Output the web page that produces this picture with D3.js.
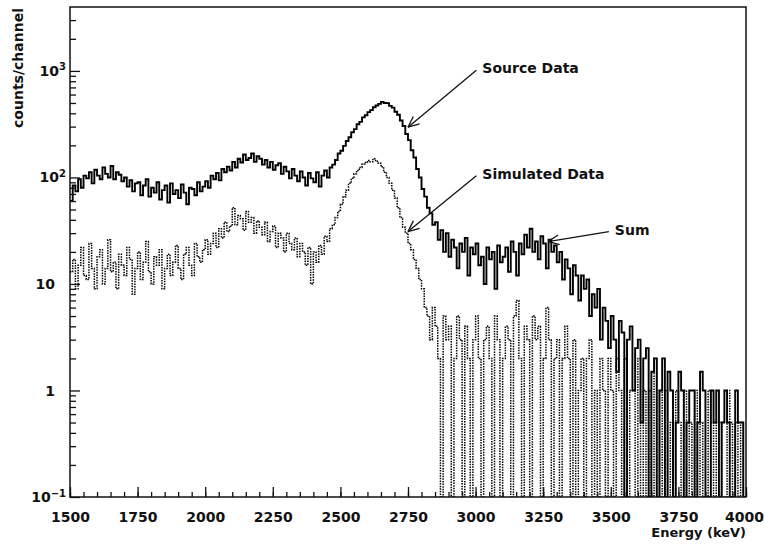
<!DOCTYPE html>
<html>
<head>
<meta charset="utf-8">
<script src="https://cdn.jsdelivr.net/npm/d3@7"></script>
<style>
	body { margin: 0; background: #fff; }
	text { font-family: "DejaVu Sans", sans-serif; fill: #111; }
</style>
</head>
<body>
<script>

	// channel energies: 10 keV bins starting at 1500 keV
	var binStart = 1500, binWidth = 10;

	// source data (solid) - counts per channel
	var sourceCounts = [
		60, 84, 74, 96, 80, 104, 98, 112, 88, 118,
		104, 96, 124, 108, 100, 128, 96, 112, 106, 92,
		100, 82, 94, 74, 88, 90, 68, 84, 96, 66,
		80, 72, 90, 62, 76, 84, 58, 88, 70, 76,
		64, 86, 72, 56, 80, 78, 68, 90, 74, 82,
		92, 80, 104, 96, 110, 94, 120, 112, 126, 116,
		140, 124, 150, 138, 164, 146, 152, 168, 140, 158,
		150, 132, 146, 124, 140, 118, 130, 136, 108, 126,
		114, 98, 120, 104, 92, 114, 100, 84, 110, 98,
		90, 112, 82, 104, 116, 100, 124, 132, 146, 168,
		178, 198, 220, 238, 266, 284, 316, 332, 366, 384,
		410, 428, 456, 474, 490, 512, 500, 498, 470, 452,
		414, 388, 342, 304, 256, 224, 180, 154, 120, 100,
		78, 66, 52, 46, 36, 38, 26, 32, 20, 30,
		18, 26, 22, 14, 24, 20, 27, 12, 22, 19,
		24, 15, 18, 10, 22, 17, 20, 9, 23, 16,
		18, 22, 13, 25, 20, 12, 24, 19, 29, 22,
		33, 20, 25, 17, 28, 24, 14, 26, 20, 23,
		16, 20, 11, 17, 14, 8, 15, 12, 7, 12,
		9, 11, 5, 8, 6, 9, 3, 6, 4.5, 2.5,
		5, 3, 1.5, 4.5, 3.5, 0, 3, 4, 1, 2.5,
		3, 0.5, 2, 2.5, 0, 1.5, 2, 0, 1, 2,
		0, 1.5, 1, 0, 0.5, 1.5, 1, 0, 0.5, 1,
		1, 0, 0.5, 1.5, 1, 0, 0, 1, 0.5, 1,
		0, 0.5, 1, 0.5, 0, 0, 1, 0.5, 0.5, 0
	];

	// simulated data (dotted)
	var simCounts = [
		13, 17, 9, 15, 22, 12, 11, 24, 14, 9,
		18, 21, 10, 14, 26, 13, 16, 9, 19, 15,
		12, 22, 17, 8, 14, 20, 11, 16, 25, 13,
		10, 18, 15, 21, 9, 14, 19, 12, 16, 23,
		14, 11, 19, 22, 15, 12, 24, 18, 16, 21,
		26, 19, 24, 30, 22, 33, 27, 38, 31, 35,
		52, 36, 44, 41, 32, 48, 38, 42, 30, 39,
		34, 29, 38, 25, 31, 35, 22, 30, 27, 20,
		30, 24, 21, 27, 18, 24, 20, 15, 22, 10,
		20, 16, 23, 19, 28, 25, 33, 36, 42, 48,
		56, 66, 76, 88, 98, 108, 116, 124, 134, 138,
		144, 140, 150, 142, 136, 126, 112, 100, 88, 76,
		64, 52, 42, 34, 30, 24, 21, 17, 14, 11,
		9, 6, 5, 3, 6, 4, 2, 0, 5, 3,
		4, 0, 2, 5, 3, 0, 4, 2, 0, 3,
		5, 2, 0, 3, 4, 2, 0, 5, 3, 0,
		2, 4, 3, 0, 5, 7, 2, 0, 4, 3,
		0, 5, 3, 4, 0, 2, 6, 3, 0, 2,
		3, 0, 2, 4, 2, 0, 3, 0, 1, 2,
		0, 2, 3, 0, 1, 0, 2, 1, 0, 2,
		1, 0, 2, 1, 0, 2, 0, 1, 1, 0,
		2, 0, 1, 0, 1, 0, 2, 0, 1, 0,
		1, 0, 0.5, 0, 1, 0.5, 0, 1, 0, 0.5,
		0, 1, 0, 0.5, 0, 0, 1, 0.5, 0, 0.5,
		0.5, 0, 0, 1, 0.5, 0, 0.5, 0, 0.5, 0
	];

	// axis ticks and labels
	var xMajor = [1500, 1750, 2000, 2250, 2500, 2750, 3000, 3250, 3500, 3750, 4000];
	var yMajor = [0.1, 1, 10, 100, 1000];
	var yLabelBase = ["10", "1", "10", "10", "10"];
	var yLabelExp = ["\u22121", "", "", "2", "3"];

	// annotations (energy, counts)
	var annotLabels = ["Source Data", "Simulated Data", "Sum"];
	var annotTextE = [3025, 3025, 3515];
	var annotTextV = [950, 97, 29];
	var annotTipE = [2750, 2750, 3268];
	var annotTipV = [296, 31, 25];

	// svg setup (plot box in pixels)
	var width = 764, height = 546;
	var pLeft = 70, pRight = 746, pTop = 7, pBottom = 497;

	var svg = d3.select("body").append("svg")
		.attr("width", width)
		.attr("height", height);

	var x = d3.scaleLinear().domain([1500, 4000]).range([pLeft, pRight]);
	var y = d3.scaleLog().domain([0.1, Math.pow(10, 3.6)]).range([pBottom, pTop]).clamp(true);

	svg.append("clipPath").attr("id", "plotclip")
		.append("rect")
		.attr("x", pLeft).attr("y", pTop)
		.attr("width", pRight - pLeft).attr("height", pBottom - pTop);

	// histogram as step line, empty channels drop to the axis
	function histPoints(counts) {
		var pts = counts.map(function(c, i) {
			return { e: binStart + i * binWidth, v: c };
		});
		pts.push({ e: binStart + counts.length * binWidth, v: counts[counts.length - 1] });
		return pts;
	}
	var step = d3.line()
		.x(function(d) { return x(d.e); })
		.y(function(d) { return y(Math.max(d.v, 0.05)); })
		.curve(d3.curveStepAfter);

	var plot = svg.append("g").attr("clip-path", "url(#plotclip)");

	plot.append("path")
		.datum(histPoints(simCounts))
		.attr("d", step)
		.style("fill", "none")
		.style("stroke", "#000")
		.style("stroke-width", 1.5)
		.style("stroke-dasharray", "1.5,1.1");

	plot.append("path")
		.datum(histPoints(sourceCounts))
		.attr("d", step)
		.style("fill", "none")
		.style("stroke", "#000")
		.style("stroke-width", 1.9);

	// frame
	svg.append("rect")
		.attr("x", pLeft).attr("y", pTop)
		.attr("width", pRight - pLeft).attr("height", pBottom - pTop)
		.style("fill", "none")
		.style("stroke", "#111")
		.style("stroke-width", 1.5);

	// x axis: minor ticks every 50 keV, major every 250, pointing inward
	var xMinor = d3.range(1500, 4001, 50);
	svg.append("g")
		.attr("transform", "translate(0," + pBottom + ")")
		.call(d3.axisBottom(x).tickValues(xMinor).tickSize(-5).tickFormat(""))
		.call(function(g) { g.select(".domain").remove(); });
	var xAxis = svg.append("g")
		.attr("transform", "translate(0," + pBottom + ")")
		.call(d3.axisBottom(x).tickValues(xMajor).tickSize(-10).tickPadding(10).tickFormat(d3.format("d")));
	xAxis.select(".domain").remove();
	xAxis.selectAll("text")
		.style("font-size", "14px")
		.style("font-weight", "bold")
		.style("font-family", "DejaVu Sans, sans-serif")
		.attr("dy", "1.05em")
		.attr("dx", function(d) { return d === 4000 ? -2 : 0; });

	// y axis: minor ticks 2..9 per decade, major at decades
	var yMinor = [];
	yMajor.forEach(function(m) {
		d3.range(2, 10).forEach(function(k) {
			if (m * k <= y.domain()[1]) yMinor.push(m * k);
		});
	});
	svg.append("g")
		.attr("transform", "translate(" + pLeft + ",0)")
		.call(d3.axisLeft(y).tickValues(yMinor).tickSize(-6).tickFormat(""))
		.call(function(g) { g.select(".domain").remove(); });
	svg.append("g")
		.attr("transform", "translate(" + pLeft + ",0)")
		.call(d3.axisLeft(y).tickValues(yMajor).tickSize(-10).tickFormat(""))
		.call(function(g) { g.select(".domain").remove(); });
	svg.selectAll(".tick line").style("stroke", "#111").style("stroke-width", 1.3);

	// y tick labels with superscript exponents
	yMajor.forEach(function(m, i) {
		var t = svg.append("text")
			.attr("x", yLabelExp[i] ? pLeft - 4 : pLeft - 15)
			.attr("y", y(m))
			.attr("dy", "0.36em")
			.style("text-anchor", "end")
			.style("font-size", "14px")
			.style("font-weight", "bold");
		t.append("tspan").text(yLabelBase[i]);
		if (yLabelExp[i]) {
			t.append("tspan")
				.attr("dy", "-0.55em")
				.style("font-size", "10px")
				.text(yLabelExp[i]);
		}
	});

	// axis titles
	svg.append("text")
		.attr("transform", "translate(23," + (pTop + 1) + ") rotate(-90)")
		.style("text-anchor", "end")
		.style("font-size", "14px")
		.style("font-weight", "bold")
		.text("counts/channel");

	svg.append("text")
		.attr("x", pRight)
		.attr("y", 537)
		.style("text-anchor", "end")
		.style("font-size", "13px")
		.style("font-weight", "bold")
		.text("Energy (keV)");

	// annotations with open arrowheads
	annotLabels.forEach(function(label, i) {
		var tx = x(annotTextE[i]), ty = y(annotTextV[i]);
		var px = x(annotTipE[i]), py = y(annotTipV[i]);
		var sx = tx - 6, sy = ty - 3;
		svg.append("text")
			.attr("x", tx).attr("y", ty)
			.style("font-size", "14px")
			.style("font-weight", "bold")
			.text(label);
		svg.append("line")
			.attr("x1", sx).attr("y1", sy)
			.attr("x2", px).attr("y2", py)
			.style("stroke", "#111").style("stroke-width", 1.3);
		var ang = Math.atan2(sy - py, sx - px);
		[-0.42, 0.42].forEach(function(da) {
			svg.append("line")
				.attr("x1", px).attr("y1", py)
				.attr("x2", px + 12 * Math.cos(ang + da))
				.attr("y2", py + 12 * Math.sin(ang + da))
				.style("stroke", "#111").style("stroke-width", 1.3);
		});
	});

</script>
</body>
</html>
